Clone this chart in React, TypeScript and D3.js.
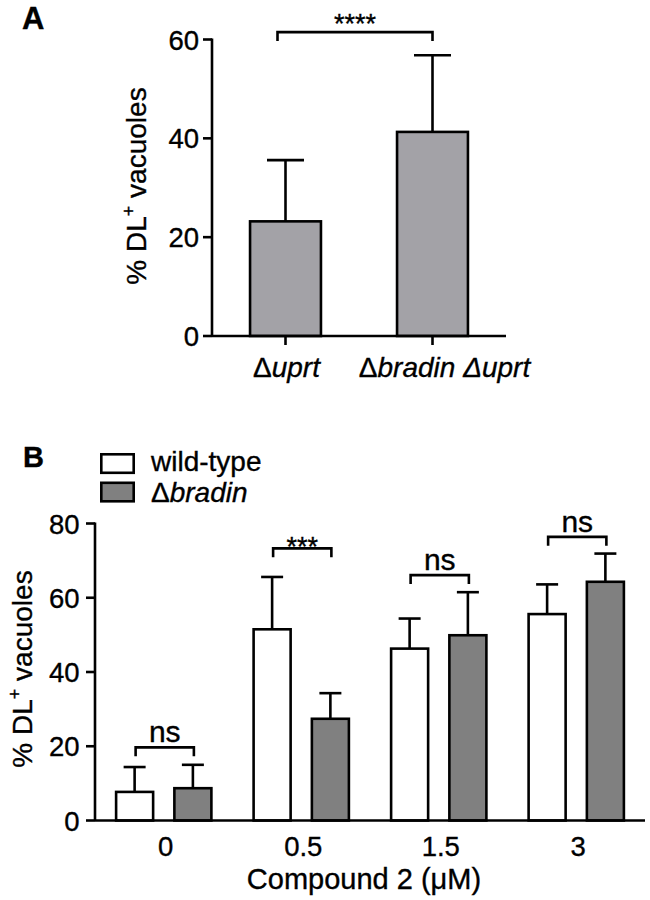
import React from 'react';
import * as d3 from 'd3';

// ---------- Panel A data ----------
const panelACategories = ['uprt', 'bradin Δuprt'];
const panelAMeans = [23.2, 41.3];
const panelAErrTops = [35.6, 56.8];
const panelATicks = [0, 20, 40, 60];
const panelASigLabel = '****';
const panelABracketY = 61.5;

// ---------- Panel B data ----------
const panelBDoses = ['0', '0.5', '1.5', '3'];
const panelBSeries = ['wild-type', 'bradin'];
const panelBWildType = [7.7, 51.5, 46.3, 55.6];
const panelBWildTypeErrTop = [14.4, 65.6, 54.4, 63.6];
const panelBBradin = [8.7, 27.4, 49.9, 64.3];
const panelBBradinErrTop = [15.0, 34.3, 61.5, 71.9];
const panelBTicks = [0, 20, 40, 60, 80];
const panelBSigLabels = ['ns', '***', 'ns', 'ns'];
const panelBBracketY = [19.7, 73.3, 66.1, 76.4];

const FONT = '"Liberation Sans", Arial, Helvetica, sans-serif';
const SW = 2.6;
const GREY_A = '#a3a2a7';
const GREY_B = '#808080';
const TXT = { fontFamily: FONT, fill: '#000', stroke: '#000', strokeWidth: 0.35 } as any;

function YLabel({ x, y }: { x: number; y: number }) {
  return (
    <text transform={`translate(${x},${y}) rotate(-90)`} textAnchor="middle" fontSize={28} {...TXT}>
      <tspan>% DL</tspan>
      <tspan fontSize={18} dy={-11}>+</tspan>
      <tspan dy={11}> vacuoles</tspan>
    </text>
  );
}

function Bracket({ x1, x2, y, drop, label, labelDy, fontSize }: any) {
  return (
    <g>
      <path d={`M${x1},${y + drop}V${y}H${x2}V${y + drop}`} fill="none" stroke="#000" strokeWidth={SW} />
      <text x={(x1 + x2) / 2} y={y + labelDy} textAnchor="middle" fontSize={fontSize} {...TXT}>{label}</text>
    </g>
  );
}

function PanelA() {
  const x = d3.scaleBand<string>().domain(panelACategories).range([212, 506]).paddingInner(0.5).paddingOuter(0.25);
  const y = d3.scaleLinear().domain([0, 60]).range([336, 39.5]);
  const bw = x.bandwidth();
  const cx = (c: string) => (x(c) as number) + bw / 2;
  const capW = 37;
  return (
    <g>
      <text x={22} y={28.5} fontSize={31} fontWeight="bold" {...TXT}>A</text>
      {panelACategories.map((c, i) => (
        <g key={c}>
          <line x1={cx(c)} x2={cx(c)} y1={y(panelAMeans[i])} y2={y(panelAErrTops[i])} stroke="#000" strokeWidth={SW} />
          <line x1={cx(c) - capW / 2} x2={cx(c) + capW / 2} y1={y(panelAErrTops[i])} y2={y(panelAErrTops[i])} stroke="#000" strokeWidth={SW} />
          <rect x={(x(c) as number) + 1.3} y={y(panelAMeans[i])} width={bw - 2.6} height={y(0) - y(panelAMeans[i])} fill={GREY_A} stroke="#000" strokeWidth={SW} />
        </g>
      ))}
      {/* y axis */}
      <line x1={212} x2={212} y1={y(60) - 1} y2={y(0)} stroke="#000" strokeWidth={SW} />
      {panelATicks.map(t => (
        <g key={t}>
          <line x1={203} x2={212} y1={y(t)} y2={y(t)} stroke="#000" strokeWidth={SW} />
          <text x={199} y={y(t) + 10} textAnchor="end" fontSize={27.5} {...TXT}>{t}</text>
        </g>
      ))}
      {/* x axis */}
      <line x1={212} x2={506} y1={y(0)} y2={y(0)} stroke="#000" strokeWidth={SW} />
      {panelACategories.map((c, i) => (
        <g key={c}>
          <line x1={cx(c)} x2={cx(c)} y1={y(0)} y2={y(0) + 9} stroke="#000" strokeWidth={SW} />
          <text x={cx(c) + (i === 1 ? 12 : 1)} y={377} textAnchor="middle" fontSize={28} {...TXT}>
            <tspan>Δ</tspan><tspan fontStyle="italic">{c}</tspan>
          </text>
        </g>
      ))}
      <Bracket x1={cx(panelACategories[0]) - 8} x2={cx(panelACategories[1])} y={y(panelABracketY)} drop={9} label={panelASigLabel} labelDy={1} fontSize={27} />
      <YLabel x={146} y={186} />
    </g>
  );
}

function PanelB() {
  const x0 = d3.scaleBand<string>().domain(panelBDoses).range([95, 645]).padding(0);
  const x1 = d3.scaleBand<string>().domain(panelBSeries).range([0, x0.bandwidth()]).paddingInner(0.32).paddingOuter(0.34);
  const y = d3.scaleLinear().domain([0, 80]).range([820.5, 523.5]);
  const bw = x1.bandwidth();
  const capW = 22;
  const series = [
    { name: panelBSeries[0], vals: panelBWildType, err: panelBWildTypeErrTop, fill: '#ffffff' },
    { name: panelBSeries[1], vals: panelBBradin, err: panelBBradinErrTop, fill: GREY_B },
  ];
  const cx = (d: string, s: string) => (x0(d) as number) + (x1(s) as number) + bw / 2;
  return (
    <g>
      <text x={23} y={466.5} fontSize={29} fontWeight="bold" {...TXT}>B</text>
      {/* legend */}
      {series.map((s, i) => (
        <g key={s.name}>
          <rect x={101.3} y={454.3 + i * 28.5} width={32.4} height={18.5} fill={s.fill} stroke="#000" strokeWidth={SW} />
          <text x={151} y={471 + i * 31} fontSize={28} {...TXT}>
            {i === 0 ? s.name : (<><tspan>Δ</tspan><tspan fontStyle="italic">{s.name}</tspan></>)}
          </text>
        </g>
      ))}
      {panelBDoses.map((d, di) => (
        <g key={d}>
          {series.map(s => {
            const c = cx(d, s.name);
            return (
              <g key={s.name}>
                <line x1={c} x2={c} y1={y(s.vals[di])} y2={y(s.err[di])} stroke="#000" strokeWidth={SW} />
                <line x1={c - capW / 2} x2={c + capW / 2} y1={y(s.err[di])} y2={y(s.err[di])} stroke="#000" strokeWidth={SW} />
                <rect x={(x0(d) as number) + (x1(s.name) as number) + 1.3} y={y(s.vals[di])} width={bw - 2.6} height={y(0) - y(s.vals[di])} fill={s.fill} stroke="#000" strokeWidth={SW} />
              </g>
            );
          })}
          <Bracket x1={cx(d, panelBSeries[0]) + 1} x2={cx(d, panelBSeries[1]) + 1} y={y(panelBBracketY[di])} drop={9} label={panelBSigLabels[di]}
            labelDy={panelBSigLabels[di] === 'ns' ? -5 : 7.5} fontSize={panelBSigLabels[di] === 'ns' ? 30 : 27} />
          <text x={(x0(d) as number) + x0.bandwidth() / 2 + 2} y={855.5} textAnchor="middle" fontSize={27.5} {...TXT}>{d}</text>
        </g>
      ))}
      {/* axes */}
      <line x1={95} x2={95} y1={y(80) - 1} y2={y(0)} stroke="#000" strokeWidth={SW} />
      {panelBTicks.map(t => (
        <g key={t}>
          <line x1={86} x2={95} y1={y(t)} y2={y(t)} stroke="#000" strokeWidth={SW} />
          <text x={79.5} y={y(t) + 10} textAnchor="end" fontSize={27.5} {...TXT}>{t}</text>
        </g>
      ))}
      <line x1={95} x2={645} y1={y(0)} y2={y(0)} stroke="#000" strokeWidth={SW} />
      <text x={364} y={888.5} textAnchor="middle" fontSize={29} {...TXT}>Compound 2 (μM)</text>
      <YLabel x={32} y={669} />
    </g>
  );
}

export default function App() {
  return (
    <svg width={650} height={900} viewBox="0 0 650 900" style={{ position: 'absolute', left: 0, top: 0, background: '#fff' }}>
      <rect x={0} y={0} width={650} height={900} fill="#fff" />
      <PanelA />
      <PanelB />
    </svg>
  );
}
